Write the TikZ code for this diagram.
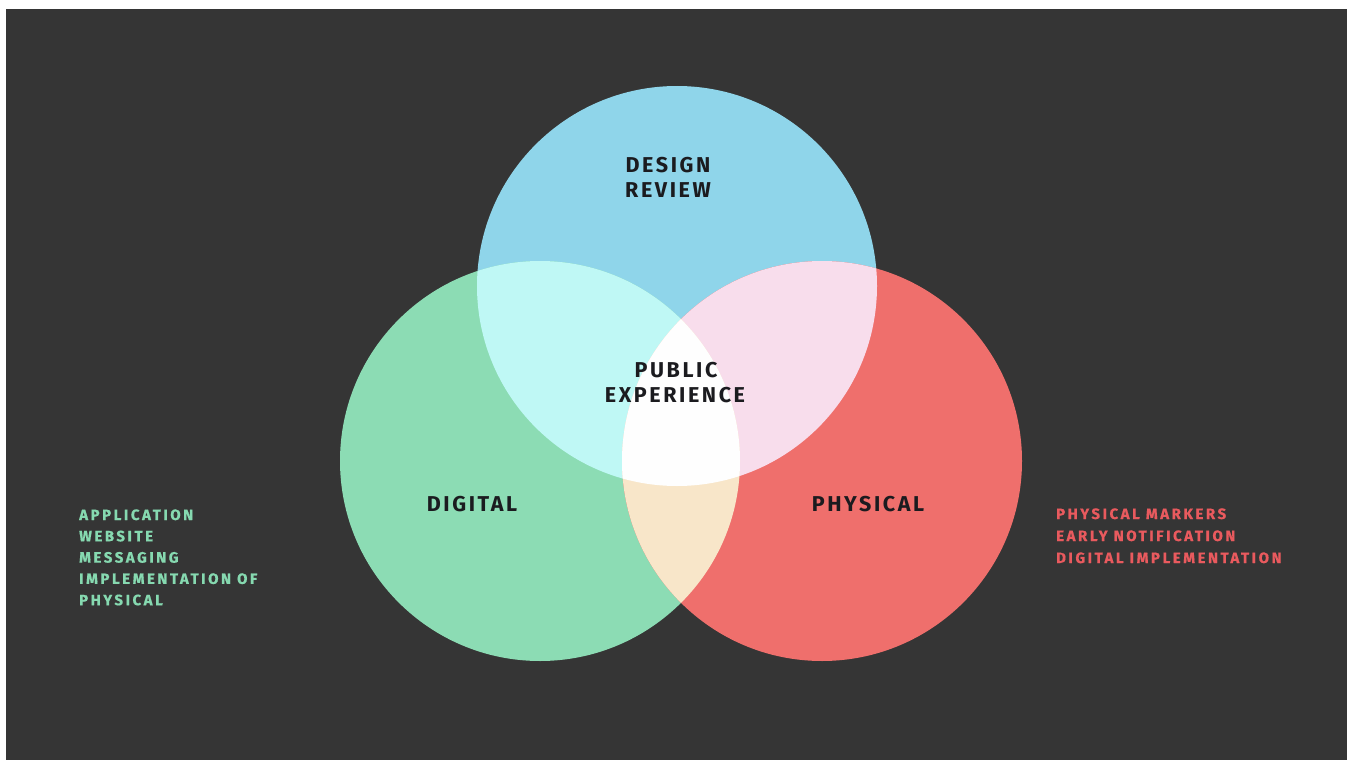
\documentclass[tikz,border=0pt]{standalone}
\usepackage{fontspec}
\newfontfamily\labfont[LetterSpace=12]{Fira Sans}
\newfontfamily\listfont[LetterSpace=17,BoldFeatures={FakeBold=0.6}]{Fira Sans}
\definecolor{bg}{HTML}{353535}
\definecolor{cblue}{HTML}{8FD5EA}
\definecolor{cgreen}{HTML}{8CDCB4}
\definecolor{cred}{HTML}{EF6F6C}
\definecolor{ccyan}{HTML}{BFF8F5}
\definecolor{cpink}{HTML}{F8DDEC}
\definecolor{cbeige}{HTML}{F8E6C9}
\definecolor{cwhite}{HTML}{FEFEFE}
\definecolor{ink}{HTML}{1B1B1F}
\definecolor{lgreen}{HTML}{86D9B0}
\definecolor{lred}{HTML}{E95A5E}
\tikzset{
  lab/.style={font=\labfont\bfseries\fontsize{21.5}{24}\selectfont, text=ink, inner sep=0pt, anchor=base},
  item/.style={font=\listfont\bfseries\fontsize{15}{17}\selectfont, inner sep=0pt, anchor=base west},
}
\begin{document}
\begin{tikzpicture}[x=1pt,y=-1pt]
\useasboundingbox (0,0) rectangle (1347,760);
\fill[white] (0,0) rectangle (1347,760);
\fill[bg] (6,9) rectangle (1347,760);
\coordinate (B) at (677,286);
\coordinate (G) at (540,461);
\coordinate (R) at (822,461);
\def\rr{200pt}
% circles
\fill[cblue] (B) circle[radius=\rr];
\fill[cgreen] (G) circle[radius=\rr];
\fill[cred] (R) circle[radius=\rr];
% pairwise overlaps
\begin{scope}
  \clip (B) circle[radius=\rr];
  \fill[ccyan] (G) circle[radius=\rr];
  \fill[cpink] (R) circle[radius=\rr];
\end{scope}
\begin{scope}
  \clip (G) circle[radius=\rr];
  \fill[cbeige] (R) circle[radius=\rr];
\end{scope}
% triple overlap
\begin{scope}
  \clip (B) circle[radius=\rr];
  \clip (G) circle[radius=\rr];
  \fill[cwhite] (R) circle[radius=\rr];
\end{scope}
% labels
\node[lab] (design) at (668,172) {DESIGN};
\node[lab] (review) at (668,197) {REVIEW};
\node[lab] (public) at (676,377) {PUBLIC};
\node[lab] (exper) at (675,402) {EXPERIENCE};
\node[lab] (digital) at (472,511) {DIGITAL};
\node[lab] (physical) at (868,511) {PHYSICAL};
% lists
\node[item, text=lgreen] (l1) at (79,520) {APPLICATION};
\node[item, text=lgreen] (l2) at (79,541.3) {WEBSITE};
\node[item, text=lgreen] (l3) at (79,562.6) {MESSAGING};
\node[item, text=lgreen] (l4) at (79,583.9) {IMPLEMENTATION OF};
\node[item, text=lgreen] (l5) at (79,605.2) {PHYSICAL};
\node[item, text=lred] (r1) at (1056,519) {PHYSICAL MARKERS};
\node[item, text=lred] (r2) at (1056,541) {EARLY NOTIFICATION};
\node[item, text=lred] (r3) at (1056,563) {DIGITAL IMPLEMENTATION};
\end{tikzpicture}
\end{document}
